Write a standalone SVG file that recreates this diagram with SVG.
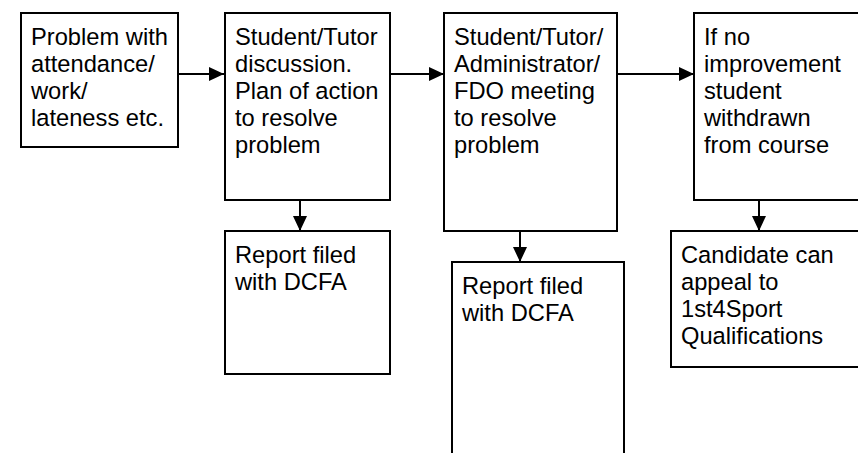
<svg xmlns="http://www.w3.org/2000/svg" width="858" height="453" viewBox="0 0 858 453">
<style>
.box{fill:#fff;stroke:#000;stroke-width:2}
.t{font-family:"Liberation Sans",Arial,sans-serif;font-size:23.7px;fill:#000}
.c{stroke:#000;stroke-width:2;fill:none}
</style>
<defs>
<marker id="ah" markerWidth="15" markerHeight="14" refX="15" refY="7" orient="auto" markerUnits="userSpaceOnUse">
<path d="M0,0 L15,7 L0,14 Z" fill="#000"/>
</marker>
</defs>
<rect width="858" height="453" fill="#fff"/>
<g id="connectors">
<line class="c" x1="178" y1="74" x2="224" y2="74" marker-end="url(#ah)"/>
<line class="c" x1="390" y1="74" x2="444" y2="74" marker-end="url(#ah)"/>
<line class="c" x1="617" y1="74" x2="694" y2="74" marker-end="url(#ah)"/>
<line class="c" x1="300" y1="200" x2="300" y2="231" marker-end="url(#ah)"/>
<line class="c" x1="520" y1="231" x2="520" y2="262" marker-end="url(#ah)"/>
<line class="c" x1="759" y1="200" x2="759" y2="231" marker-end="url(#ah)"/>
</g>
<g id="n1">
<rect class="box" x="21" y="13" width="157" height="134"/>
<text class="t" x="31" y="45">Problem with</text>
<text class="t" x="31" y="72">attendance/</text>
<text class="t" x="31" y="99">work/</text>
<text class="t" x="31" y="126">lateness etc.</text>
</g>
<g id="n2">
<rect class="box" x="225" y="13" width="165" height="187"/>
<text class="t" x="235" y="45">Student/Tutor</text>
<text class="t" x="235" y="72">discussion.</text>
<text class="t" x="235" y="99">Plan of action</text>
<text class="t" x="235" y="126">to resolve</text>
<text class="t" x="235" y="153">problem</text>
</g>
<g id="n3">
<rect class="box" x="444" y="13" width="173" height="218"/>
<text class="t" x="454" y="45">Student/Tutor/</text>
<text class="t" x="454" y="72">Administrator/</text>
<text class="t" x="454" y="99">FDO meeting</text>
<text class="t" x="454" y="126">to resolve</text>
<text class="t" x="454" y="153">problem</text>
</g>
<g id="n4">
<rect class="box" x="694" y="13" width="180" height="187"/>
<text class="t" x="704" y="45">If no</text>
<text class="t" x="704" y="72">improvement</text>
<text class="t" x="704" y="99">student</text>
<text class="t" x="704" y="126">withdrawn</text>
<text class="t" x="704" y="153">from course</text>
</g>
<g id="n5">
<rect class="box" x="225" y="231" width="165" height="143"/>
<text class="t" x="235" y="263">Report filed</text>
<text class="t" x="235" y="290">with DCFA</text>
</g>
<g id="n6">
<rect class="box" x="452" y="262" width="172" height="220"/>
<text class="t" x="462" y="294">Report filed</text>
<text class="t" x="462" y="321">with DCFA</text>
</g>
<g id="n7">
<rect class="box" x="671" y="231" width="200" height="136"/>
<text class="t" x="681" y="263">Candidate can</text>
<text class="t" x="681" y="290">appeal to</text>
<text class="t" x="681" y="317">1st4Sport</text>
<text class="t" x="681" y="344">Qualifications</text>
</g>
</svg>
